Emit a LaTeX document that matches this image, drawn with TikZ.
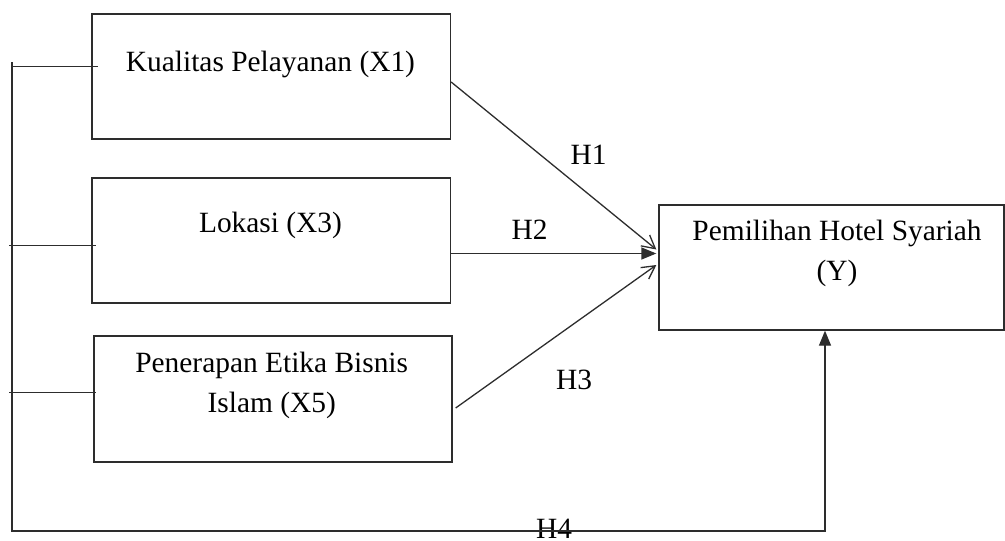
\documentclass[tikz,border=0pt]{standalone}
\usepackage{fontspec}
\setmainfont{Liberation Serif}
\usetikzlibrary{arrows.meta,calc}
\definecolor{ln}{RGB}{45,45,45}
\begin{document}
\begin{tikzpicture}[x=1pt,y=-1pt,
  box/.style={draw=ln,line width=1.3pt,inner sep=0pt,minimum height=125pt},
  txt/.style={font=\fontsize{29.4}{40}\selectfont,inner sep=0pt,text=black},
  conn/.style={draw=ln,line width=1.3pt},
  openarrow/.style={-{Straight Barb[length=13pt,width=14pt]}},
  filledarrow/.style={-{Triangle[length=15pt,width=12pt]}}]
\useasboundingbox (0,0) rectangle (1005,541);
% boxes
\node[box,minimum width=358.5pt] (b1) at (271.25,76.5) {};
\node[box,minimum width=358.5pt] (b2) at (271.25,240.5) {};
\node[box,minimum width=358pt,minimum height=126pt] (b3) at (273,399) {};
\node[box,minimum width=345pt] (y) at (831.5,267.5) {};
% box texts
\node[txt,anchor=base] (t1) at (270.5,71.7) {Kualitas Pelayanan (X1)};
\node[txt,anchor=base] (t2) at (270.5,232) {Lokasi (X3)};
\node[txt,anchor=north,align=center] (t3) at (271.7,351.6) {Penerapan Etika Bisnis\\Islam (X5)};
\node[txt,anchor=north,align=center] (ty) at (837,219.9) {Pemilihan Hotel Syariah\\(Y)};
% hypothesis labels
\node[txt] (h1) at (588.5,155) {H1};
\node[txt] (h2) at (529.5,230) {H2};
\node[txt] (h3) at (574,379.5) {H3};
\node[txt] (h4) at (554,528.5) {H4};
% left bracket line and H4
\coordinate (ltop) at (12,62);
\coordinate (lbot) at (12,531);
\draw[conn,filledarrow] (ltop) -- (lbot) -| ($(y.south)+(-6.5,0)$);
\coordinate (s1) at (12,66.7);
\coordinate (s2) at (9,245.7);
\coordinate (s3) at (9,392.7);
\draw[conn] (s1) -- ($(b1.west)+(7,-9.8)$);
\draw[conn] (s2) -- ($(b2.west)+(5,5.2)$);
\draw[conn] (s3) -- ($(b3.west)+(3,-6.3)$);
% arrows H1-H3
\draw[conn,openarrow] ($(b1.east)+(0,5.5)$) -- ($(y.west)+(-2,-18)$);
\draw[conn,filledarrow] ($(b2.east)+(0,13)$) -- ($(y.west)+(-2,-14)$);
\draw[conn,openarrow] ($(b3.east)+(3,9)$) -- ($(y.west)+(-2,-2.5)$);
\end{tikzpicture}
\end{document}
